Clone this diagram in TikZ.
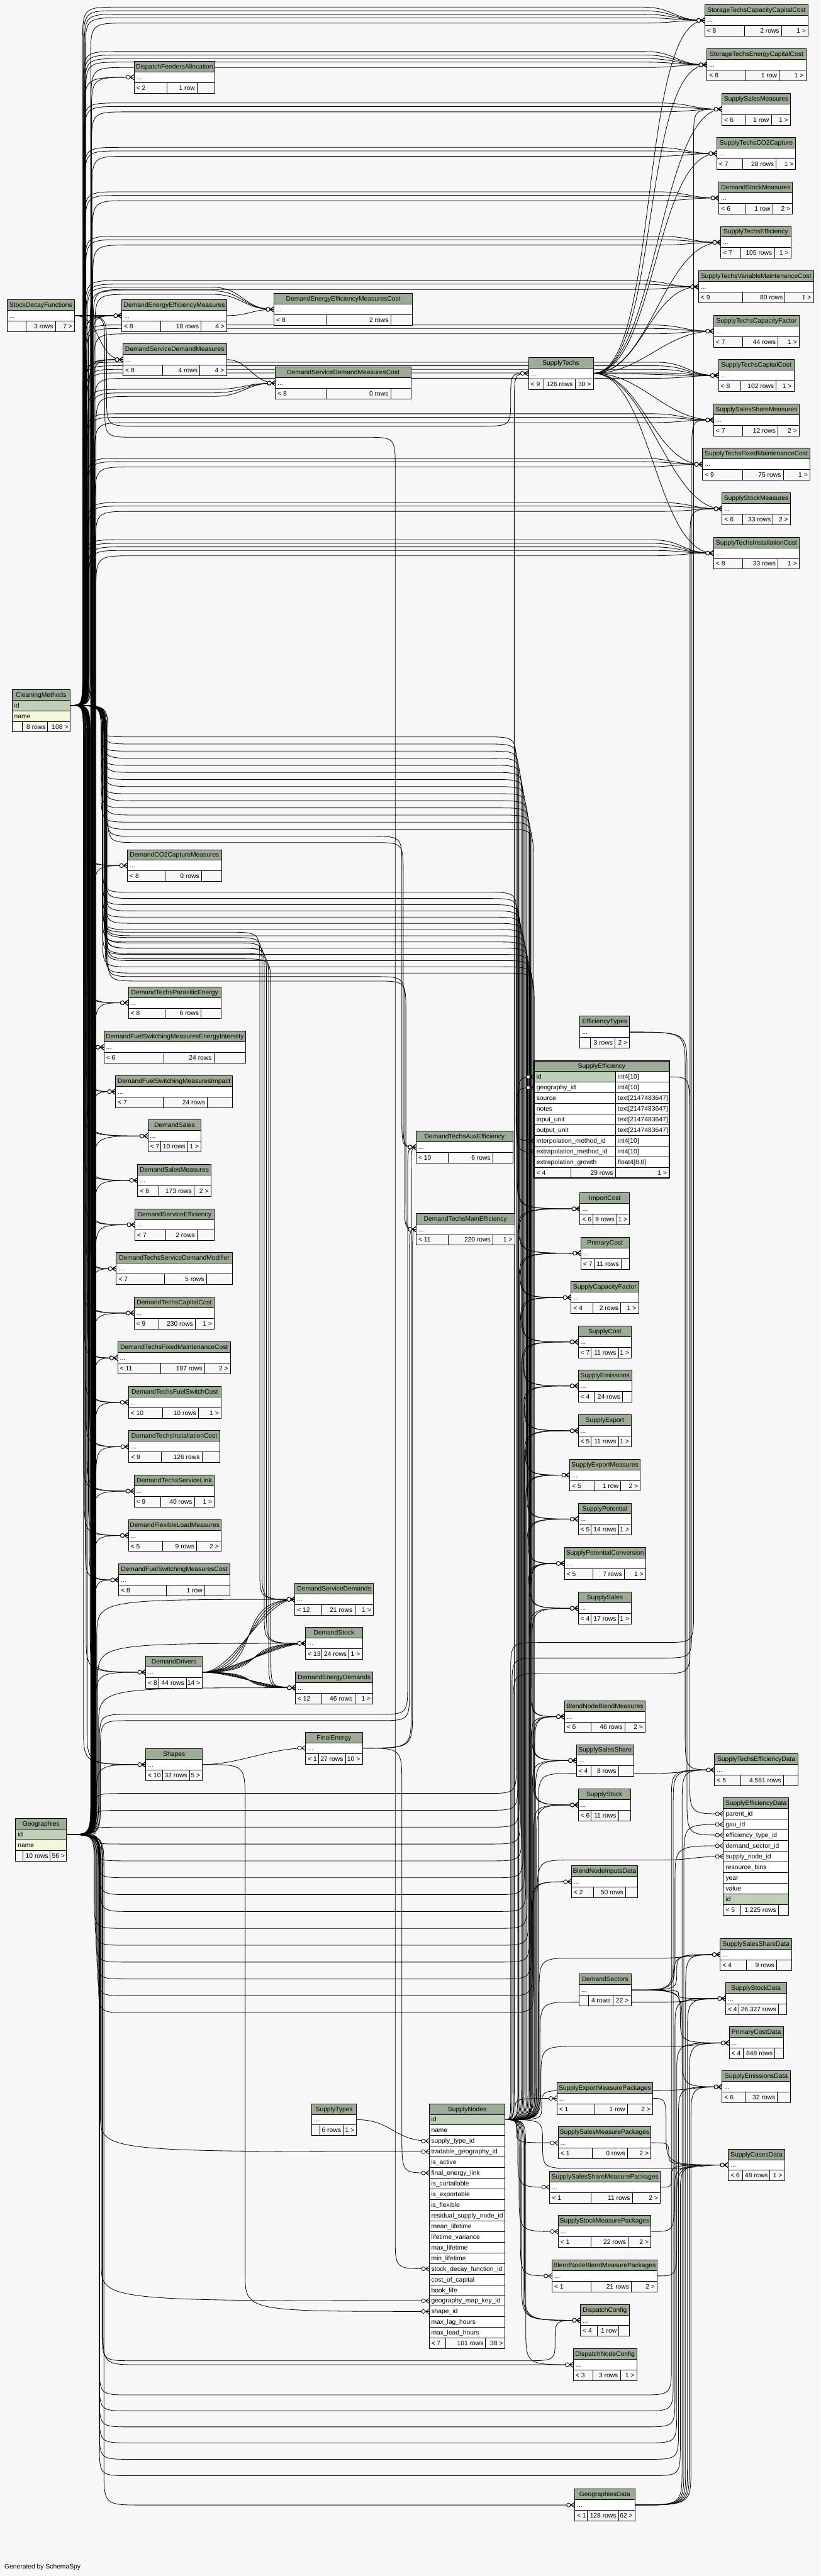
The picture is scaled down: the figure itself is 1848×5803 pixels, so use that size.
\documentclass[tikz,border=0pt]{standalone}
\usepackage{fontspec}
\setmainfont{Liberation Sans}
\definecolor{bgc}{HTML}{F7F7F7}
\definecolor{hdr}{HTML}{9BAB96}
\definecolor{pkc}{HTML}{BED1B8}
\definecolor{idxc}{HTML}{F4F7DA}
\pgfdeclarelayer{bgl}
\pgfdeclarelayer{edges}
\pgfsetlayers{bgl,edges,main}
\newcommand{\tfont}{\fontsize{14.6}{17}\selectfont}
\tikzset{
  tb/.style={draw=black,line width=1.3pt},
  fkline/.style={line width=1.15pt,draw=black},
  txt/.style={inner sep=0pt,font=\tfont,text height=11.5pt,text depth=1.5pt},
}
\newdimen\fkdx \newdimen\fkdy
\newcommand{\getpt}[3]{%
  \pgfextractx{\fkdx}{\pgfpointanchor{#1}{center}}%
  \pgfextracty{\fkdy}{\pgfpointanchor{#1}{center}}%
  \pgfmathsetmacro{#2}{\fkdx}%
  \pgfmathsetmacro{#3}{\fkdy}}
\newcommand{\crowf}[1]{%
  \draw[fkline] ([xshift=-9pt]#1) -- ([yshift=6pt]#1) ([xshift=-9pt]#1) -- ([yshift=-6pt]#1);%
  \filldraw[fkline,fill=white] ([xshift=-13.5pt]#1) circle (4.3pt);}
% route: parent -> vertical bundle at x=#3 -> child
\newcommand{\fk}[3]{%
  \getpt{#1}{\qxa}{\qya}\getpt{#2}{\qxb}{\qyb}%
  \pgfmathsetmacro{\qs}{(\qyb>\qya)*2-1}%
  \pgfmathsetmacro{\qr}{min(85,abs(\qyb-\qya)/2)}%
  \pgfmathsetmacro{\qyp}{\qya+\qs*\qr}%
  \pgfmathsetmacro{\qyq}{\qyb-\qs*\qr}%
  \draw[fkline] (#1) .. controls (#3pt,\qya pt) .. (#3pt,\qyp pt) -- (#3pt,\qyq pt) .. controls (#3pt,\qyb pt) .. (#2);%
  \crowf{#2}}
% long route with horizontal run offset by #4
\newcommand{\fkl}[4]{%
  \getpt{#1}{\qxa}{\qya}\getpt{#2}{\qxb}{\qyb}%
  \pgfmathsetmacro{\qyc}{\qyb-(#4)}%
  \pgfmathsetmacro{\qs}{(\qyc>\qya)*2-1}%
  \pgfmathsetmacro{\qr}{min(85,abs(\qyc-\qya)/2)}%
  \pgfmathsetmacro{\qyp}{\qya+\qs*\qr}%
  \pgfmathsetmacro{\qyq}{\qyc-\qs*\qr}%
  \pgfmathsetmacro{\qxr}{#3+85}%
  \pgfmathsetmacro{\qxj}{\qxb-140}%
  \pgfmathsetmacro{\qxk}{\qxb-70}%
  \draw[fkline] (#1) .. controls (#3pt,\qya pt) .. (#3pt,\qyp pt) -- (#3pt,\qyq pt) .. controls (#3pt,\qyc pt) .. (\qxr pt,\qyc pt) -- (\qxj pt,\qyc pt) .. controls (\qxk pt,\qyc pt) and (\qxk pt,\qyb pt) .. (#2);%
  \crowf{#2}}
% two bundles: x=#3, horizontal at image y=#4, x=#5
\newcommand{\fkw}[5]{%
  \getpt{#1}{\qxa}{\qya}\getpt{#2}{\qxb}{\qyb}%
  \pgfmathsetmacro{\qym}{-(#4)}%
  \pgfmathsetmacro{\qs}{(\qym>\qya)*2-1}%
  \pgfmathsetmacro{\qr}{min(70,abs(\qym-\qya)/2)}%
  \pgfmathsetmacro{\qyp}{\qya+\qs*\qr}%
  \pgfmathsetmacro{\qyq}{\qym-\qs*\qr}%
  \pgfmathsetmacro{\qt}{(\qyb>\qym)*2-1}%
  \pgfmathsetmacro{\qq}{min(70,abs(\qyb-\qym)/2)}%
  \pgfmathsetmacro{\qyu}{\qym+\qt*\qq}%
  \pgfmathsetmacro{\qyv}{\qyb-\qt*\qq}%
  \pgfmathsetmacro{\qxr}{#3+70}%
  \pgfmathsetmacro{\qxl}{#5-70}%
  \draw[fkline] (#1) .. controls (#3pt,\qya pt) .. (#3pt,\qyp pt) -- (#3pt,\qyq pt) .. controls (#3pt,\qym pt) .. (\qxr pt,\qym pt) -- (\qxl pt,\qym pt) .. controls (#5pt,\qym pt) .. (#5pt,\qyu pt) -- (#5pt,\qyv pt) .. controls (#5pt,\qyb pt) .. (#2);%
  \crowf{#2}}
% direct S-curve
\newcommand{\fkd}[3]{%
  \draw[fkline] (#1) .. controls ([xshift=#3pt]#1) and ([xshift=-#3pt]#2) .. (#2);\crowf{#2}}
% simple table: name, x1, ytop, x2, divider1, divider2, foot1, foot2, foot3
\newcommand{\stbl}[9]{%
  \fill[hdr] (#2,#3) rectangle (#4,#3+24);
  \fill[white] (#2,#3+24) rectangle (#4,#3+48);
  \fill[bgc] (#2,#3+48) rectangle (#4,#3+72);
  \draw[tb] (#2,#3+24) -- (#4,#3+24) (#2,#3+48) -- (#4,#3+48) (#5,#3+48) -- (#5,#3+72) (#6,#3+48) -- (#6,#3+72);
  \draw[tb] (#2,#3) rectangle (#4,#3+72);
  \node[txt] (#1) at ({(#2+#4)/2},#3+12) {#1};
  \node[txt,anchor=west] (#1-b) at (#2+5,#3+36) {...};
  \node[txt,anchor=west] (#1-f1) at (#2+5,#3+60) {#7};
  \node[txt,anchor=east] (#1-f2) at (#6-5,#3+60) {#8};
  \node[txt,anchor=east] (#1-f3) at (#4-5,#3+60) {#9};
  \coordinate (#1-in) at (#2,#3+36);
  \coordinate (#1-out) at (#4,#3+36);
}
\begin{document}
\begin{tikzpicture}[x=1pt,y=-1pt]
\useasboundingbox (0,0) rectangle (1848,5803);
\begin{pgfonlayer}{bgl}
\fill[bgc] (0,0) rectangle (1848,5803);
\end{pgfonlayer}

% ---------------- right column (top)
\stbl{StorageTechsCapacityCapitalCost}{1587}{10}{1820}{1676}{1760}{< 8}{2 rows}{1 >}
\stbl{StorageTechsEnergyCapitalCost}{1592}{110}{1815}{1680}{1755}{< 8}{1 row}{1 >}
\stbl{SupplySalesMeasures}{1626}{210}{1780}{1680}{1737}{< 6}{1 row}{1 >}
\stbl{SupplyTechsCO2Capture}{1614}{310}{1792}{1672}{1748}{< 7}{28 rows}{1 >}
\stbl{DemandStockMeasures}{1619}{410}{1785}{1680}{1740}{< 6}{1 row}{2 >}
\stbl{SupplyTechsEfficiency}{1623}{510}{1781}{1668}{1744}{< 7}{105 rows}{1 >}
\stbl{SupplyTechsVariableMaintenanceCost}{1573}{610}{1832}{1672}{1768}{< 9}{80 rows}{1 >}
\stbl{SupplyTechsCapacityFactor}{1607}{710}{1800}{1672}{1752}{< 7}{44 rows}{1 >}
\stbl{SupplyTechsCapitalCost}{1618}{810}{1788}{1668}{1748}{< 8}{102 rows}{1 >}
\stbl{SupplySalesShareMeasures}{1607}{910}{1800}{1672}{1752}{< 7}{12 rows}{2 >}
\stbl{SupplyTechsFixedMaintenanceCost}{1582}{1010}{1824}{1672}{1764}{< 9}{75 rows}{1 >}
\stbl{SupplyStockMeasures}{1626}{1110}{1780}{1672}{1741}{< 6}{33 rows}{2 >}
\stbl{SupplyTechsInstallationCost}{1607}{1210}{1800}{1672}{1752}{< 8}{33 rows}{1 >}
% ---------------- right column (bottom)
\stbl{SupplyTechsEfficiencyData}{1609}{3951}{1797}{1668}{1764}{< 5}{4,561 rows}{}
\stbl{SupplySalesShareData}{1622}{4367}{1783}{1681}{1749}{< 4}{9 rows}{}
\stbl{SupplyStockData}{1634}{4466}{1771}{1664}{1753}{< 4}{26,327 rows}{}
\stbl{PrimaryCostData}{1642}{4566}{1764}{1674}{1745}{< 4}{848 rows}{}
\stbl{SupplyEmissionsData}{1626}{4665}{1780}{1678}{1751}{< 6}{32 rows}{}
\stbl{SupplyCasesData}{1640}{4841}{1767}{1672}{1734}{< 6}{48 rows}{1 >}
% SupplyEfficiencyData (columns)
\fill[hdr] (1629,4050) rectangle (1776,4074);
\node[txt] (SupplyEfficiencyData) at (1702.5,4062) {SupplyEfficiencyData};
\foreach \rn [count=\i from 0] in {parent\_id,gau\_id,efficiency\_type\_id,demand\_sector\_id,supply\_node\_id,resource\_bins,year,value,id}{
  \pgfmathsetmacro\ry{4074+24*\i}
  \ifnum\i=8 \fill[pkc] (1629,\ry) rectangle (1776,\ry+24); \else \fill[white] (1629,\ry) rectangle (1776,\ry+24); \fi
  \draw[tb] (1629,\ry) -- (1776,\ry);
  \node[txt,anchor=west] (SED-r\i) at (1634,\ry+12) {\rn};
}
\fill[bgc] (1629,4290) rectangle (1776,4314);
\draw[tb] (1629,4290) -- (1776,4290) (1668,4290) -- (1668,4314) (1753,4290) -- (1753,4314);
\draw[tb] (1629,4050) rectangle (1776,4314);
\node[txt,anchor=west] (SED-f1) at (1634,4302) {< 5};
\node[txt,anchor=east] (SED-f2) at (1748,4302) {1,225 rows};
\coordinate (SupplyEfficiencyData-parent) at (1629,4086);
\coordinate (SupplyEfficiencyData-gau) at (1629,4110);
\coordinate (SupplyEfficiencyData-etype) at (1629,4134);
\coordinate (SupplyEfficiencyData-dsec) at (1629,4158);
\coordinate (SupplyEfficiencyData-snode) at (1629,4182);

% ---------------- left column
\stbl{DispatchFeedersAllocation}{302}{138}{484}{376}{444}{< 2}{1 row}{}
\stbl{StockDecayFunctions}{16}{675}{168}{59}{125}{}{3 rows}{7 >}
\stbl{DemandEnergyEfficiencyMeasures}{274}{675}{511}{362}{453}{< 8}{18 rows}{4 >}
\stbl{DemandServiceDemandMeasures}{277}{774}{510}{366}{450}{< 8}{4 rows}{4 >}
\stbl{DemandEnergyEfficiencyMeasuresCost}{617}{661}{929}{735}{880}{< 8}{2 rows}{}
\stbl{DemandServiceDemandMeasuresCost}{620}{827}{926}{735}{880}{< 8}{0 rows}{}
\stbl{DemandCO2CaptureMeasures}{287}{1914}{499}{372}{454}{< 8}{0 rows}{}
\stbl{DemandTechsParasiticEnergy}{289}{2223}{498}{372}{453}{< 8}{6 rows}{}
\stbl{DemandFuelSwitchingMeasuresEnergyIntensity}{234}{2323}{553}{369}{482}{< 6}{24 rows}{}
\stbl{DemandFuelSwitchingMeasuresImpact}{260}{2423}{524}{367}{467}{< 7}{24 rows}{}
\stbl{DemandSales}{333}{2523}{453}{362}{423}{< 7}{10 rows}{1 >}
\stbl{DemandSalesMeasures}{310}{2623}{475}{358}{437}{< 8}{173 rows}{2 >}
\stbl{DemandServiceEfficiency}{304}{2723}{482}{373}{444}{< 7}{2 rows}{}
\stbl{DemandTechsServiceDemandModifier}{262}{2822}{523}{371}{465}{< 7}{5 rows}{}
\stbl{DemandTechsCapitalCost}{302}{2922}{483}{357}{440}{< 9}{230 rows}{1 >}
\stbl{DemandTechsFixedMaintenanceCost}{265}{3023}{519}{362}{461}{< 11}{187 rows}{2 >}
\stbl{DemandTechsFuelSwitchCost}{289}{3123}{498}{366}{447}{< 10}{10 rows}{1 >}
\stbl{DemandTechsInstallationCost}{290}{3223}{495}{363}{455}{< 9}{126 rows}{}
\stbl{DemandTechsServiceLink}{302}{3323}{483}{362}{438}{< 9}{40 rows}{1 >}
\stbl{DemandFlexibleLoadMeasures}{289}{3423}{498}{366}{443}{< 5}{9 rows}{2 >}
\stbl{DemandFuelSwitchingMeasuresCost}{267}{3523}{518}{375}{461}{< 8}{1 row}{}
\stbl{DemandDrivers}{328}{3731}{456}{357}{420}{< 8}{44 rows}{14 >}
\stbl{Shapes}{328}{3939}{456}{366}{427}{< 10}{32 rows}{5 >}
\stbl{DemandServiceDemands}{664}{3567}{841}{725}{799}{< 12}{21 rows}{1 >}
\stbl{DemandStock}{688}{3666}{816}{725}{786}{< 13}{24 rows}{1 >}
\stbl{DemandEnergyDemands}{665}{3766}{840}{725}{799}{< 12}{46 rows}{1 >}
\stbl{FinalEnergy}{688}{3902}{816}{717}{778}{< 1}{27 rows}{10 >}
\stbl{SupplyTypes}{702}{4739}{803}{720}{773}{}{6 rows}{1 >}
% CleaningMethods
\fill[hdr] (27,1553) rectangle (158,1577);
\fill[pkc] (27,1577) rectangle (158,1601);
\fill[idxc] (27,1601) rectangle (158,1625);
\fill[bgc] (27,1625) rectangle (158,1649);
\draw[tb] (27,1577)--(158,1577) (27,1601)--(158,1601) (27,1625)--(158,1625) (50,1625)--(50,1649) (107,1625)--(107,1649);
\draw[tb] (27,1553) rectangle (158,1649);
\node[txt] (CleaningMethods) at (92.5,1565) {CleaningMethods};
\node[txt,anchor=west] (CM-id) at (32,1589) {id};
\node[txt,anchor=west] (CM-name) at (32,1613) {name};
\node[txt,anchor=east] (CM-f2) at (103,1637) {8 rows};
\node[txt,anchor=east] (CM-f3) at (154,1637) {108 >};
\coordinate (CleaningMethods-out) at (158,1589);
% Geographies
\fill[hdr] (35,4097) rectangle (150,4121);
\fill[pkc] (35,4121) rectangle (150,4145);
\fill[idxc] (35,4145) rectangle (150,4169);
\fill[bgc] (35,4169) rectangle (150,4193);
\draw[tb] (35,4121)--(150,4121) (35,4145)--(150,4145) (35,4169)--(150,4169) (52,4169)--(52,4193) (113,4169)--(113,4193);
\draw[tb] (35,4097) rectangle (150,4193);
\node[txt] (Geographies) at (92.5,4109) {Geographies};
\node[txt,anchor=west] (Geo-id) at (40,4133) {id};
\node[txt,anchor=west] (Geo-name) at (40,4157) {name};
\node[txt,anchor=east] (Geo-f2) at (109,4181) {10 rows};
\node[txt,anchor=east] (Geo-f3) at (146,4181) {56 >};
\coordinate (Geographies-out) at (150,4133);

% ---------------- middle
\stbl{SupplyTechs}{1190}{805}{1336}{1225}{1295}{< 9}{126 rows}{30 >}
\stbl{DemandTechsAuxEfficiency}{937}{2548}{1155}{1010}{1110}{< 10}{6 rows}{}
\stbl{DemandTechsMainEfficiency}{937}{2733}{1159}{1010}{1110}{< 11}{220 rows}{1 >}
\stbl{EfficiencyTypes}{1306}{2289}{1418}{1329}{1385}{}{3 rows}{2 >}
\stbl{ImportCost}{1306}{2687}{1418}{1335}{1389}{< 6}{9 rows}{1 >}
\stbl{PrimaryCost}{1308}{2787}{1417}{1338}{1399}{< 7}{11 rows}{}
\stbl{SupplyCapacityFactor}{1286}{2887}{1438}{1335}{1398}{< 4}{2 rows}{1 >}
\stbl{SupplyCost}{1302}{2987}{1422}{1331}{1393}{< 7}{11 rows}{1 >}
\stbl{SupplyEmissions}{1302}{3086}{1423}{1338}{1402}{< 4}{24 rows}{}
\stbl{SupplyExport}{1302}{3187}{1422}{1331}{1393}{< 5}{11 rows}{1 >}
\stbl{SupplyExportMeasures}{1283}{3287}{1442}{1339}{1398}{< 5}{1 row}{2 >}
\stbl{SupplyPotential}{1302}{3386}{1422}{1331}{1393}{< 5}{14 rows}{1 >}
\stbl{SupplyPotentialConversion}{1271}{3486}{1454}{1335}{1406}{< 5}{7 rows}{1 >}
\stbl{SupplySales}{1302}{3587}{1422}{1331}{1393}{< 4}{17 rows}{1 >}
\stbl{BlendNodeBlendMeasures}{1271}{3831}{1453}{1331}{1407}{< 6}{46 rows}{2 >}
\stbl{SupplySalesShare}{1298}{3930}{1427}{1331}{1393}{< 4}{8 rows}{}
\stbl{SupplyStock}{1302}{4030}{1420}{1331}{1393}{< 6}{11 rows}{}
\stbl{BlendNodeInputsData}{1287}{4203}{1436}{1336}{1409}{< 2}{50 rows}{}
\stbl{DemandSectors}{1304}{4447}{1421}{1326}{1380}{}{4 rows}{22 >}
\stbl{SupplyExportMeasurePackages}{1254}{4691}{1470}{1339}{1413}{< 1}{1 row}{2 >}
\stbl{SupplySalesMeasurePackages}{1257}{4791}{1466}{1334}{1413}{< 1}{0 rows}{2 >}
\stbl{SupplySalesShareMeasurePackages}{1238}{4891}{1487}{1331}{1424}{< 1}{11 rows}{2 >}
\stbl{SupplyStockMeasurePackages}{1257}{4991}{1466}{1331}{1415}{< 1}{22 rows}{2 >}
\stbl{BlendNodeBlendMeasurePackages}{1243}{5091}{1480}{1331}{1422}{< 1}{21 rows}{2 >}
\stbl{DispatchConfig}{1307}{5191}{1417}{1345}{1394}{< 4}{1 row}{}
\stbl{DispatchNodeConfig}{1291}{5291}{1434}{1335}{1397}{< 3}{3 rows}{1 >}
\stbl{GeographiesData}{1294}{5607}{1430}{1323}{1393}{< 1}{128 rows}{62 >}
% SupplyEfficiency (focus table)
\fill[hdr] (1203,2390) rectangle (1507,2414);
\node[txt] (SupplyEfficiency) at (1355,2402) {SupplyEfficiency};
\foreach \rn/\rt [count=\i from 0] in {id/int4[10],geography\_id/int4[10],source/text[2147483647],notes/text[2147483647],input\_unit/text[2147483647],output\_unit/text[2147483647],interpolation\_method\_id/int4[10],extrapolation\_method\_id/int4[10],extrapolation\_growth/{float4[8,8]}}{
  \pgfmathsetmacro\ry{2414+24*\i}
  \fill[white] (1203,\ry) rectangle (1507,\ry+24);
  \ifnum\i=0 \fill[pkc] (1203,\ry) rectangle (1386,\ry+24); \fi
  \draw[tb] (1203,\ry) -- (1507,\ry) (1386,\ry) -- (1386,\ry+24);
  \node[txt,anchor=west] (SE-n\i) at (1208,\ry+12) {\rn};
  \node[txt,anchor=west] (SE-t\i) at (1391,\ry+12) {\rt};
}
\fill[bgc] (1203,2630) rectangle (1507,2654);
\draw[tb] (1203,2630) -- (1507,2630) (1286,2630) -- (1286,2654) (1386,2630) -- (1386,2654);
\draw[line width=3pt] (1203,2390) rectangle (1507,2654);
\node[txt,anchor=west] (SE-f1) at (1208,2642) {< 4};
\node[txt,anchor=east] (SE-f2) at (1381,2642) {29 rows};
\node[txt,anchor=east] (SE-f3) at (1502,2642) {1 >};
\coordinate (SupplyEfficiency-id) at (1203,2426);
\coordinate (SupplyEfficiency-geo) at (1203,2450);
\coordinate (SupplyEfficiency-int) at (1203,2570);
\coordinate (SupplyEfficiency-ext) at (1203,2594);
\coordinate (SupplyEfficiency-out) at (1507,2426);
% SupplyNodes
\fill[hdr] (967,4739) rectangle (1137,4763);
\node[txt] (SupplyNodes) at (1052,4751) {SupplyNodes};
\foreach \rn [count=\i from 0] in {id,name,supply\_type\_id,tradable\_geography\_id,is\_active,final\_energy\_link,is\_curtailable,is\_exportable,is\_flexible,residual\_supply\_node\_id,mean\_lifetime,lifetime\_variance,max\_lifetime,min\_lifetime,stock\_decay\_function\_id,cost\_of\_capital,book\_life,geography\_map\_key\_id,shape\_id,max\_lag\_hours,max\_lead\_hours}{
  \pgfmathsetmacro\ry{4763+24*\i}
  \ifnum\i=0 \fill[pkc] (967,\ry) rectangle (1137,\ry+24); \else \fill[white] (967,\ry) rectangle (1137,\ry+24); \fi
  \draw[tb] (967,\ry) -- (1137,\ry);
  \node[txt,anchor=west] (SN-r\i) at (971,\ry+12) {\rn};
}
\fill[bgc] (967,5267) rectangle (1137,5291);
\draw[tb] (967,5267) -- (1137,5267) (1003,5267) -- (1003,5291) (1093,5267) -- (1093,5291);
\draw[tb] (967,4739) rectangle (1137,5291);
\node[txt,anchor=west] (SN-f1) at (971,5279) {< 7};
\node[txt,anchor=east] (SN-f2) at (1089,5279) {101 rows};
\node[txt,anchor=east] (SN-f3) at (1133,5279) {38 >};
\coordinate (SupplyNodes-out) at (1137,4775);
\coordinate (SupplyNodes-stype) at (967,4823);
\coordinate (SupplyNodes-tgeo) at (967,4847);
\coordinate (SupplyNodes-fel) at (967,4895);
\coordinate (SupplyNodes-sdf) at (967,5111);
\coordinate (SupplyNodes-gmk) at (967,5183);
\coordinate (SupplyNodes-shape) at (967,5207);

\node[txt,anchor=west] (generated) at (10,5782) {Generated by SchemaSpy};

% ======================= edges
\begin{pgfonlayer}{edges}
% CleaningMethods -> left column
\foreach \c/\a/\b in {DemandEnergyEfficiencyMeasures/192/199,DemandServiceDemandMeasures/194/201,DemandCO2CaptureMeasures/188/196,DemandTechsParasiticEnergy/190/198,DemandFuelSwitchingMeasuresEnergyIntensity/192/200,DemandFuelSwitchingMeasuresImpact/194/202,DemandSales/188/197,DemandSalesMeasures/190/199,DemandServiceEfficiency/192/201,DemandTechsServiceDemandModifier/194/203,DemandTechsCapitalCost/188/196,DemandTechsFixedMaintenanceCost/190/198,DemandTechsFuelSwitchCost/192/200,DemandTechsInstallationCost/194/202,DemandTechsServiceLink/188/197,DemandFlexibleLoadMeasures/190/199,DemandFuelSwitchingMeasuresCost/192/201,DemandDrivers/194/203,Shapes/188/196}
  {\fk{CleaningMethods-out}{\c-in}{\a}\fk{CleaningMethods-out}{\c-in}{\b}}
\fk{CleaningMethods-out}{DispatchFeedersAllocation-in}{190}
\fkl{CleaningMethods-out}{DemandEnergyEfficiencyMeasuresCost-in}{196}{-50}
\fkl{CleaningMethods-out}{DemandEnergyEfficiencyMeasuresCost-in}{203}{-42}
\fkl{CleaningMethods-out}{DemandServiceDemandMeasuresCost-in}{198}{14}
\fkl{CleaningMethods-out}{DemandServiceDemandMeasuresCost-in}{205}{22}
\fkw{CleaningMethods-out}{DemandServiceDemands-in}{232}{2100}{585}
\fkw{CleaningMethods-out}{DemandServiceDemands-in}{236}{2112}{590}
\fkw{CleaningMethods-out}{DemandStock-in}{234}{2124}{595}
\fkw{CleaningMethods-out}{DemandStock-in}{238}{2136}{600}
\fkw{CleaningMethods-out}{DemandEnergyDemands-in}{236}{2148}{605}
\fkw{CleaningMethods-out}{DemandEnergyDemands-in}{240}{2160}{610}
% CleaningMethods -> right column
\foreach \c/\a/\d in {StorageTechsCapacityCapitalCost/186/-30,StorageTechsCapacityCapitalCost/188/-22,StorageTechsCapacityCapitalCost/190/-14,StorageTechsCapacityCapitalCost/192/-6,StorageTechsEnergyCapitalCost/187/-30,StorageTechsEnergyCapitalCost/189/-22,StorageTechsEnergyCapitalCost/191/-14,StorageTechsEnergyCapitalCost/193/-6,SupplySalesMeasures/188/-14,SupplySalesMeasures/190/-6,SupplyTechsCO2Capture/189/-14,SupplyTechsCO2Capture/191/-6,DemandStockMeasures/190/-14,DemandStockMeasures/192/-6,SupplyTechsEfficiency/191/-14,SupplyTechsEfficiency/193/-6,SupplyTechsVariableMaintenanceCost/192/-14,SupplyTechsVariableMaintenanceCost/194/-6,SupplyTechsCapacityFactor/193/-14,SupplyTechsCapacityFactor/195/-6,SupplyTechsCapitalCost/186/-30,SupplyTechsCapitalCost/188/-22,SupplyTechsCapitalCost/194/-14,SupplyTechsCapitalCost/196/-6,SupplySalesShareMeasures/195/-14,SupplySalesShareMeasures/197/-6,SupplyTechsFixedMaintenanceCost/196/-14,SupplyTechsFixedMaintenanceCost/198/-6,SupplyStockMeasures/197/-14,SupplyStockMeasures/199/-6,SupplyTechsInstallationCost/190/-30,SupplyTechsInstallationCost/192/-22,SupplyTechsInstallationCost/198/-14,SupplyTechsInstallationCost/200/-6}
  {\fkl{CleaningMethods-out}{\c-in}{\a}{\d}}
% CleaningMethods -> middle
\foreach \c/\a/\m/\b in {SupplyEfficiency-int/228/1660/1162,SupplyEfficiency-ext/231/2010/1164,ImportCost-in/234/1676/1165,ImportCost-in/237/2024/1167,PrimaryCost-in/228/1692/1168,PrimaryCost-in/231/2038/1170,SupplyCapacityFactor-in/234/1708/1171,SupplyCapacityFactor-in/237/2052/1173,SupplyCost-in/228/1724/1174,SupplyCost-in/231/2066/1176,SupplyEmissions-in/234/1740/1177,SupplyEmissions-in/237/2080/1179,SupplyExport-in/228/1756/1180,SupplyExport-in/231/2094/1182,SupplyExportMeasures-in/234/1772/1183,SupplyExportMeasures-in/237/2108/1185,SupplyPotential-in/228/1788/1186,SupplyPotential-in/231/2122/1188,SupplyPotentialConversion-in/234/1804/1189,SupplyPotentialConversion-in/237/2136/1191,SupplySales-in/228/1820/1192,SupplySales-in/231/2150/1194,BlendNodeBlendMeasures-in/234/1836/1195,BlendNodeBlendMeasures-in/237/2164/1197,SupplySalesShare-in/228/1852/1198,SupplySalesShare-in/231/2178/1200,SupplyStock-in/234/1868/1201,SupplyStock-in/237/2192/1203,DemandTechsAuxEfficiency-in/240/1884/905,DemandTechsAuxEfficiency-in/243/1898/908,DemandTechsMainEfficiency-in/240/2200/911,DemandTechsMainEfficiency-in/243/2210/914}
  {\fkw{CleaningMethods-out}{\c}{\a}{\m}{\b}}
% Geographies -> left column
\foreach \c/\a in {DispatchFeedersAllocation/206,DemandEnergyEfficiencyMeasures/208,DemandServiceDemandMeasures/210,DemandCO2CaptureMeasures/212,DemandTechsParasiticEnergy/214,DemandFuelSwitchingMeasuresEnergyIntensity/207,DemandFuelSwitchingMeasuresImpact/209,DemandSales/211,DemandSalesMeasures/213,DemandServiceEfficiency/215,DemandTechsServiceDemandModifier/208,DemandTechsCapitalCost/210,DemandTechsFixedMaintenanceCost/212,DemandTechsFuelSwitchCost/214,DemandTechsInstallationCost/216,DemandTechsServiceLink/209,DemandFlexibleLoadMeasures/211,DemandFuelSwitchingMeasuresCost/213,DemandDrivers/215,Shapes/217,DemandServiceDemands/218,DemandStock/220,DemandEnergyDemands/222}
  {\fk{Geographies-out}{\c-in}{\a}}
\fkl{Geographies-out}{DemandEnergyEfficiencyMeasuresCost-in}{214}{-34}
\fkl{Geographies-out}{DemandServiceDemandMeasuresCost-in}{216}{30}
% Geographies -> right column
\foreach \c/\a in {StorageTechsCapacityCapitalCost/204,StorageTechsEnergyCapitalCost/205,SupplySalesMeasures/206,SupplyTechsCO2Capture/207,DemandStockMeasures/208,SupplyTechsEfficiency/209,SupplyTechsVariableMaintenanceCost/210,SupplyTechsCapacityFactor/211,SupplyTechsCapitalCost/212,SupplySalesShareMeasures/213,SupplyTechsFixedMaintenanceCost/214,SupplyStockMeasures/215,SupplyTechsInstallationCost/216}
  {\fkl{Geographies-out}{\c-in}{\a}{6}}
% Geographies -> middle
\foreach \c/\a/\m/\b in {SupplyEfficiency-geo/212/4040/1163,ImportCost-in/214/4078/1166,PrimaryCost-in/216/4116/1169,SupplyCapacityFactor-in/218/4154/1172,SupplyCost-in/220/4192/1175,SupplyEmissions-in/222/4230/1178,SupplyExport-in/224/4268/1181,SupplyExportMeasures-in/226/4306/1184,SupplyPotential-in/212/4344/1187,SupplyPotentialConversion-in/214/4382/1190,SupplySales-in/216/4420/1193,BlendNodeBlendMeasures-in/218/4458/1196,SupplySalesShare-in/220/4496/1199,SupplyStock-in/222/4534/1202,DemandTechsAuxEfficiency-in/224/3862/918,DemandTechsMainEfficiency-in/226/3876/922}
  {\fkw{Geographies-out}{\c}{\a}{\m}{\b}}
% Geographies -> lower tables
\fk{Geographies-out}{SupplyNodes-tgeo}{226}
\fk{Geographies-out}{SupplyNodes-gmk}{228}
\fkw{Geographies-out}{DispatchConfig-in}{230}{5318}{1250}
\fkl{Geographies-out}{DispatchNodeConfig-in}{232}{0}
\fkl{Geographies-out}{GeographiesData-in}{234}{0}
\foreach \c/\m/\b in {SupplyTechsEfficiencyData-in/5395/1512,SupplySalesShareData-in/5431/1516,SupplyStockData-in/5467/1520,PrimaryCostData-in/5503/1524,SupplyEmissionsData-in/5540/1528,SupplyCasesData-in/5577/1532}
  {\fkw{Geographies-out}{\c}{224}{\m}{\b}}
% StockDecayFunctions
\fkd{StockDecayFunctions-out}{DemandEnergyEfficiencyMeasures-in}{30}
\fkd{StockDecayFunctions-out}{DemandServiceDemandMeasures-in}{60}
\fkw{StockDecayFunctions-out}{SupplyNodes-sdf}{236}{985}{890}
\fkw{StockDecayFunctions-out}{SupplyTechs-in}{240}{960}{1150}
\fkd{DemandEnergyEfficiencyMeasures-out}{DemandEnergyEfficiencyMeasuresCost-in}{50}
\fkd{DemandServiceDemandMeasures-out}{DemandServiceDemandMeasuresCost-in}{50}
% DemandDrivers
\foreach \d in {70,95,120,145}{\fkd{DemandDrivers-out}{DemandServiceDemands-in}{\d}}
\foreach \d in {60,85,110,135,160}{\fkd{DemandDrivers-out}{DemandStock-in}{\d}}
\foreach \d in {60,85,110,135,160}{\fkd{DemandDrivers-out}{DemandEnergyDemands-in}{\d}}
% Shapes, SupplyTypes, FinalEnergy
\fkd{Shapes-out}{FinalEnergy-in}{80}
\fk{Shapes-out}{SupplyNodes-shape}{552}
\fkd{SupplyTypes-out}{SupplyNodes-stype}{80}
\fk{FinalEnergy-out}{SupplyNodes-fel}{905}
\fk{FinalEnergy-out}{DemandTechsAuxEfficiency-in}{926}
\fk{FinalEnergy-out}{DemandTechsMainEfficiency-in}{929}
% SupplyTechs -> right column (fan)
\foreach \c/\a in {StorageTechsCapacityCapitalCost/150,StorageTechsEnergyCapitalCost/150,SupplySalesMeasures/140,SupplyTechsCO2Capture/140,SupplyTechsEfficiency/130,SupplyTechsVariableMaintenanceCost/110,SupplyTechsCapacityFactor/110,SupplyTechsCapitalCost/110,SupplySalesShareMeasures/110,SupplyTechsFixedMaintenanceCost/110,SupplyStockMeasures/120,SupplyTechsInstallationCost/130}
  {\fkd{SupplyTechs-out}{\c-in}{\a}}
% SupplyNodes
\fkw{SupplyNodes-out}{SupplySalesMeasures-in}{1150}{3700}{1562}
\fkw{SupplyNodes-out}{SupplySalesShareMeasures-in}{1153}{3735}{1558}
\fkw{SupplyNodes-out}{SupplyStockMeasures-in}{1156}{3770}{1554}
\fk{SupplyNodes-out}{SupplyTechs-in}{1158}
\foreach \c/\a in {SupplyEfficiency-id/1166,ImportCost-in/1168,PrimaryCost-in/1171,SupplyCapacityFactor-in/1174,SupplyCost-in/1177,SupplyEmissions-in/1180,SupplyExport-in/1183,SupplyExportMeasures-in/1186,SupplyPotential-in/1189,SupplyPotentialConversion-in/1192,SupplyPotentialConversion-in/1195,SupplySales-in/1198,BlendNodeBlendMeasures-in/1201,BlendNodeBlendMeasures-in/1204,SupplySalesShare-in/1206,SupplyStock-in/1208,BlendNodeInputsData-in/1196,BlendNodeInputsData-in/1199,SupplyExportMeasurePackages-in/1160,SupplySalesMeasurePackages-in/1163,SupplySalesShareMeasurePackages-in/1166,SupplyStockMeasurePackages-in/1169,BlendNodeBlendMeasurePackages-in/1172,DispatchConfig-in/1175,DispatchConfig-in/1178,DispatchConfig-in/1181,DispatchNodeConfig-in/1184}
  {\fk{SupplyNodes-out}{\c}{\a}}
\foreach \c/\a in {SupplyEfficiencyData-snode/1210,SupplyTechsEfficiencyData-in/1212,SupplySalesShareData-in/1214,SupplyStockData-in/1216,PrimaryCostData-in/1218,SupplyEmissionsData-in/1220,SupplyCasesData-in/1222}
  {\fkl{SupplyNodes-out}{\c}{\a}{8}}
% right-side data tables
\fk{SupplyEfficiency-out}{SupplyEfficiencyData-parent}{1553}
\fk{EfficiencyTypes-out}{SupplyEfficiencyData-etype}{1547}
\fk{EfficiencyTypes-out}{SupplyTechsEfficiencyData-in}{1543}
\foreach \c/\a in {SupplyEfficiencyData-dsec/1520,SupplyTechsEfficiencyData-in/1516,SupplySalesShareData-in/1524,SupplyStockData-in/1528,PrimaryCostData-in/1532,SupplyEmissionsData-in/1536}
  {\fk{DemandSectors-out}{\c}{\a}}
\foreach \c/\a in {SupplyEfficiencyData-gau/1540,SupplyTechsEfficiencyData-in/1536,SupplySalesShareData-in/1544,SupplyStockData-in/1548,PrimaryCostData-in/1552,SupplyEmissionsData-in/1556}
  {\fk{GeographiesData-out}{\c}{\a}}
\foreach \c/\a in {SupplyExportMeasurePackages/1500,SupplySalesMeasurePackages/1506,SupplySalesShareMeasurePackages/1512,SupplyStockMeasurePackages/1518,BlendNodeBlendMeasurePackages/1524}
  {\fk{\c-out}{SupplyCasesData-in}{\a}}
\end{pgfonlayer}
\end{tikzpicture}
\end{document}
